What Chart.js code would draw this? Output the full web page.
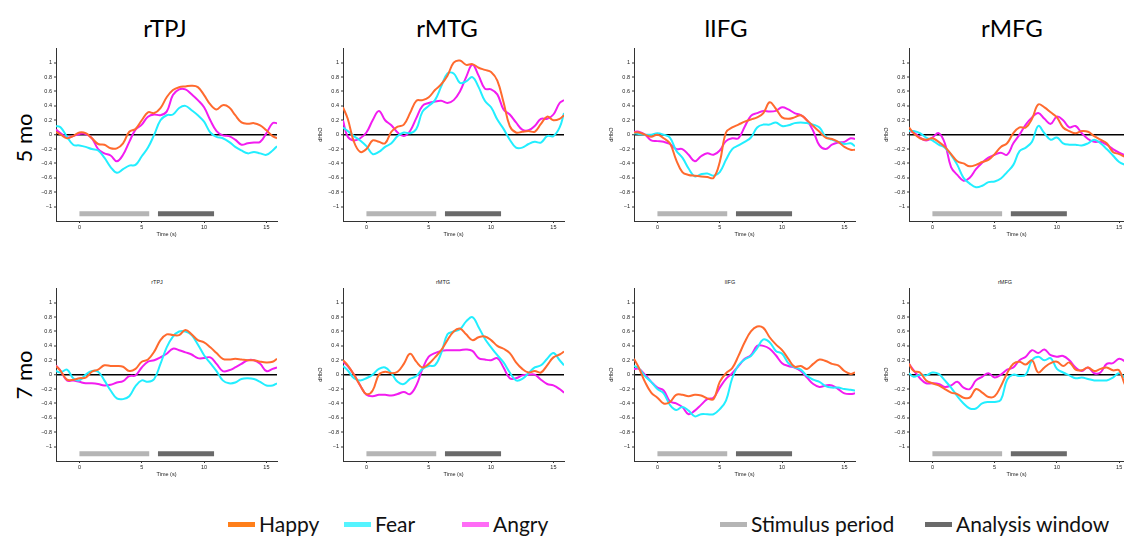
<!DOCTYPE html>
<html>
<head>
<meta charset="utf-8">
<title>dHbO por region</title>
<script src="https://cdn.jsdelivr.net/npm/chart.js@4.4.0/dist/chart.umd.min.js"></script>
<style>
  html, body { margin: 0; padding: 0; }
  body { width: 1124px; height: 540px; overflow: hidden; background: #fff; position: relative; font-family: Lato, sans-serif; }
  canvas { position: absolute; }
  .titulo { position: absolute; top: 16px; font-size: 24px; line-height: 24px; color: #000; transform: translateX(-50%); white-space: nowrap; }
  .edad { position: absolute; font-size: 22px; line-height: 22px; color: #000; white-space: nowrap; transform: translate(-50%, -50%) rotate(-90deg); }
  .mini { position: absolute; top: 279px; font-family: "Liberation Sans", sans-serif; font-size: 5.5px; color: #222; transform: translateX(-50%); }
  .muestra { position: absolute; top: 522px; width: 27px; height: 5px; }
  .etiqueta { position: absolute; top: 513px; font-size: 21px; line-height: 21px; color: #111; white-space: nowrap; }
</style>
</head>
<body>

<script>
// eje de tiempo compartido (s)
const tiempos = [-1.88,-1.5,-1,-0.5,0,0.5,1,1.5,2,2.5,3,3.5,4,4.5,5,5.5,6,6.5,7,7.5,8,8.5,9,9.5,10,10.5,11,11.5,12,12.5,13,13.5,14,14.5,15,15.5,15.85];
const regiones = ["rTPJ", "rMTG", "lIFG", "rMFG"];
const edades = ["5 mo", "7 mo"];
const emociones = ["Happy", "Fear", "Angry"];
const yTicks = [-1, -0.8, -0.6, -0.4, -0.2, 0, 0.2, 0.4, 0.6, 0.8, 1];
const xTicks = [0, 5, 10, 15];
const periodoEstimulo = [0, 5.6];   // barra gris claro
const ventanaAnalisis = [6.3, 10.8]; // barra gris oscuro
const nivelBarras = -1.1;

// ---- 5 meses ----
const rTPJ_5_happy = [0.04,0.0,-0.05,-0.02,0.03,0.02,-0.05,-0.13,-0.14,-0.19,-0.19,-0.12,0.04,0.08,0.2,0.31,0.3,0.37,0.52,0.62,0.66,0.67,0.68,0.66,0.55,0.42,0.35,0.41,0.38,0.27,0.17,0.15,0.16,0.13,0.06,-0.02,-0.05];
const rTPJ_5_fear  = [0.12,0.1,-0.03,-0.14,-0.15,-0.17,-0.2,-0.22,-0.32,-0.45,-0.53,-0.48,-0.43,-0.42,-0.3,-0.18,0.0,0.2,0.27,0.28,0.37,0.4,0.34,0.27,0.18,0.03,-0.03,-0.05,-0.1,-0.17,-0.22,-0.26,-0.24,-0.26,-0.28,-0.22,-0.16];
const rTPJ_5_angry = [0.07,0.02,-0.04,-0.02,0.01,0.01,-0.05,-0.2,-0.26,-0.29,-0.37,-0.28,-0.1,0.07,0.14,0.25,0.28,0.27,0.32,0.55,0.63,0.63,0.56,0.48,0.38,0.2,0.05,-0.01,-0.02,-0.07,-0.14,-0.12,-0.11,-0.1,0.02,0.16,0.16];

const rMTG_5_happy = [0.38,0.22,-0.1,-0.24,-0.2,-0.08,-0.1,-0.12,0.04,0.11,0.14,0.3,0.47,0.48,0.52,0.62,0.7,0.82,1.0,1.03,0.97,0.98,0.93,0.9,0.87,0.75,0.45,0.12,0.03,0.04,0.05,0.04,0.15,0.25,0.2,0.22,0.27];
const rMTG_5_fear  = [0.1,0.05,-0.02,-0.08,-0.16,-0.27,-0.24,-0.17,-0.12,-0.02,0.03,0.02,0.08,0.32,0.4,0.48,0.67,0.85,0.85,0.72,0.74,0.8,0.66,0.47,0.38,0.21,0.08,-0.07,-0.18,-0.18,-0.13,-0.1,-0.11,-0.02,-0.02,0.1,0.3];
const rMTG_5_angry = [0.2,-0.03,-0.08,-0.05,0.03,0.2,0.33,0.2,0.13,0.03,-0.02,0.05,0.23,0.4,0.44,0.46,0.47,0.44,0.48,0.6,0.8,0.97,0.82,0.64,0.63,0.56,0.35,0.28,0.17,0.07,0.06,0.12,0.22,0.22,0.28,0.44,0.48];

const lIFG_5_happy = [0.03,0.03,0.0,-0.03,0.0,-0.05,-0.12,-0.35,-0.52,-0.56,-0.57,-0.58,-0.59,-0.6,-0.38,0.03,0.1,0.14,0.18,0.21,0.24,0.3,0.45,0.36,0.24,0.22,0.24,0.27,0.2,0.12,0.04,-0.04,-0.06,-0.1,-0.17,-0.21,-0.21];
const lIFG_5_fear  = [0.02,0.01,0.0,0.0,0.02,0.0,-0.04,-0.22,-0.32,-0.47,-0.58,-0.55,-0.54,-0.57,-0.52,-0.35,-0.2,-0.15,-0.1,-0.04,0.1,0.14,0.14,0.17,0.12,0.13,0.16,0.17,0.16,0.14,0.1,-0.03,-0.07,-0.1,-0.13,-0.12,-0.16];
const lIFG_5_angry = [0.04,0.04,0.0,-0.08,-0.09,-0.1,-0.13,-0.2,-0.2,-0.28,-0.37,-0.3,-0.26,-0.28,-0.22,-0.09,-0.05,-0.05,0.11,0.26,0.3,0.33,0.32,0.33,0.38,0.35,0.3,0.27,0.2,0.05,-0.15,-0.2,-0.14,-0.11,-0.1,-0.05,-0.06];

const rMFG_5_happy = [0.1,0.02,-0.05,-0.07,-0.05,-0.1,-0.17,-0.27,-0.37,-0.4,-0.44,-0.42,-0.38,-0.35,-0.27,-0.17,-0.12,0.02,0.1,0.1,0.22,0.42,0.38,0.31,0.24,0.1,0.05,0.02,0.05,0.04,-0.02,-0.07,-0.12,-0.24,-0.27,-0.31,-0.33];
const rMFG_5_fear  = [0.05,0.05,0.02,-0.04,-0.08,-0.14,-0.18,-0.28,-0.42,-0.6,-0.68,-0.73,-0.71,-0.66,-0.65,-0.61,-0.52,-0.42,-0.23,-0.18,-0.1,0.12,0.02,-0.07,-0.04,-0.12,-0.14,-0.14,-0.15,-0.12,-0.07,-0.12,-0.2,-0.29,-0.38,-0.42,-0.43];
const rMFG_5_angry = [0.05,0.03,-0.04,-0.08,-0.04,0.02,-0.12,-0.45,-0.56,-0.64,-0.6,-0.48,-0.39,-0.32,-0.28,-0.25,-0.28,-0.12,0.0,0.14,0.24,0.3,0.22,0.15,0.25,0.2,0.1,0.12,0.02,-0.06,-0.1,-0.1,-0.14,-0.2,-0.25,-0.29,-0.31];

// ---- 7 meses ----
const rTPJ_7_happy = [0.12,0.05,-0.07,-0.07,-0.05,-0.04,0.04,0.07,0.13,0.12,0.12,0.11,0.05,0.08,0.18,0.21,0.32,0.48,0.56,0.55,0.55,0.62,0.56,0.48,0.45,0.38,0.3,0.22,0.21,0.22,0.21,0.2,0.2,0.18,0.17,0.18,0.22];
const rTPJ_7_fear  = [0.05,0.03,0.07,-0.05,-0.08,0.0,0.05,0.04,-0.08,-0.22,-0.33,-0.34,-0.3,-0.16,-0.08,-0.1,-0.06,0.15,0.38,0.53,0.6,0.6,0.55,0.42,0.27,0.16,0.05,-0.08,-0.12,-0.11,-0.06,-0.05,-0.06,-0.1,-0.15,-0.15,-0.12];
const rTPJ_7_angry = [0.13,0.05,-0.08,-0.08,-0.1,-0.12,-0.12,-0.13,-0.15,-0.14,-0.11,-0.09,-0.02,-0.01,0.1,0.18,0.2,0.24,0.29,0.36,0.34,0.31,0.28,0.23,0.23,0.24,0.15,0.05,0.06,0.1,0.15,0.2,0.2,0.15,0.05,0.08,0.1];

const rMTG_7_happy = [0.2,0.13,0.0,-0.15,-0.27,-0.22,0.0,0.04,0.02,0.04,0.15,0.29,0.18,0.1,0.15,0.24,0.34,0.48,0.6,0.64,0.56,0.48,0.52,0.53,0.48,0.4,0.36,0.3,0.17,0.08,0.03,0.05,0.03,0.13,0.24,0.28,0.32];
const rMTG_7_fear  = [0.12,0.06,-0.05,-0.08,-0.05,0.0,0.08,0.1,0.02,-0.1,-0.13,-0.06,-0.02,0.08,0.12,0.13,0.3,0.56,0.6,0.63,0.74,0.8,0.66,0.5,0.38,0.27,0.17,0.03,-0.08,-0.06,0.02,0.1,0.13,0.22,0.3,0.2,0.13];
const rMTG_7_angry = [0.18,0.12,0.0,-0.15,-0.28,-0.3,-0.28,-0.28,-0.29,-0.27,-0.24,-0.27,-0.15,0.08,0.25,0.3,0.33,0.34,0.34,0.34,0.35,0.33,0.23,0.21,0.2,0.23,0.1,-0.05,-0.05,-0.01,0.0,0.0,-0.07,-0.13,-0.15,-0.2,-0.25];

const lIFG_7_happy = [0.22,0.1,-0.1,-0.25,-0.32,-0.4,-0.38,-0.28,-0.28,-0.3,-0.28,-0.29,-0.33,-0.34,-0.1,0.02,0.09,0.26,0.45,0.6,0.67,0.65,0.52,0.42,0.34,0.22,0.11,0.12,0.08,0.15,0.21,0.19,0.15,0.13,0.05,0.01,0.03];
const lIFG_7_fear  = [0.12,0.09,-0.02,-0.1,-0.2,-0.26,-0.42,-0.49,-0.45,-0.5,-0.58,-0.55,-0.55,-0.55,-0.48,-0.36,-0.05,0.13,0.21,0.26,0.37,0.49,0.45,0.33,0.29,0.16,0.1,0.07,-0.02,-0.07,-0.1,-0.16,-0.18,-0.18,-0.2,-0.21,-0.22];
const lIFG_7_angry = [0.08,0.08,0.0,-0.1,-0.18,-0.22,-0.37,-0.4,-0.45,-0.55,-0.5,-0.42,-0.34,-0.32,-0.18,-0.06,0.02,0.12,0.22,0.27,0.4,0.4,0.36,0.27,0.16,0.12,0.1,0.05,-0.04,-0.13,-0.17,-0.15,-0.15,-0.2,-0.26,-0.27,-0.26];

const rMFG_7_happy = [0.15,0.05,0.03,-0.08,-0.12,-0.15,-0.2,-0.25,-0.27,-0.32,-0.32,-0.2,-0.25,-0.31,-0.3,-0.16,0.02,0.15,0.18,0.14,0.2,0.03,0.1,0.16,0.18,0.12,0.17,0.07,0.06,0.1,0.05,0.08,0.1,0.06,0.06,-0.15,-0.2];
const rMFG_7_fear  = [0.02,-0.03,0.0,-0.01,0.03,0.01,-0.08,-0.18,-0.3,-0.4,-0.47,-0.47,-0.4,-0.38,-0.38,-0.35,-0.07,0.0,-0.02,0.0,0.2,0.25,0.2,0.23,0.08,0.03,-0.01,-0.05,-0.04,-0.06,-0.08,-0.08,-0.08,-0.04,0.02,-0.05,-0.06];
const rMFG_7_angry = [0.15,0.06,-0.05,-0.12,-0.12,-0.13,-0.17,-0.15,-0.1,-0.18,-0.2,-0.08,-0.03,0.02,-0.04,0.0,0.07,0.1,0.2,0.25,0.34,0.3,0.35,0.27,0.25,0.26,0.2,0.1,0.05,0.1,0.02,0.03,0.15,0.16,0.22,0.18,0.12];

const series = {
  "rTPJ_5": [rTPJ_5_happy, rTPJ_5_fear, rTPJ_5_angry],
  "rMTG_5": [rMTG_5_happy, rMTG_5_fear, rMTG_5_angry],
  "lIFG_5": [lIFG_5_happy, lIFG_5_fear, lIFG_5_angry],
  "rMFG_5": [rMFG_5_happy, rMFG_5_fear, rMFG_5_angry],
  "rTPJ_7": [rTPJ_7_happy, rTPJ_7_fear, rTPJ_7_angry],
  "rMTG_7": [rMTG_7_happy, rMTG_7_fear, rMTG_7_angry],
  "lIFG_7": [lIFG_7_happy, lIFG_7_fear, lIFG_7_angry],
  "rMFG_7": [rMFG_7_happy, rMFG_7_fear, rMFG_7_angry]
};

// colores de las lineas
const colorLinea = ["#ff6a2e", "#22eeff", "#f21cf0"];
const colorLeyenda = ["#ff7f1a", "#55f4ff", "#ff6cf6"];
const grisClaro = "#b5b5b5";
const grisOscuro = "#6a6a6a";

// posicion de los paneles en pixeles
const ejeIzq = [56, 343, 634, 909];
const filaTop = [47, 287];
const tituloX = [165, 447, 726, 1012];
const miniX = [157, 443, 730, 1005];
const PX_SEG = 12.45;
const ALTO = 174;

const fuenteChica = { family: "'Liberation Sans', Arial, sans-serif", size: 5.5 };

function texto(clase, txt, estilos) {
  const d = document.createElement("div");
  d.className = clase;
  d.textContent = txt;
  Object.assign(d.style, estilos);
  document.body.appendChild(d);
  return d;
}

function crearPanel(fila, col) {
  const clave = regiones[col] + "_" + (fila === 0 ? "5" : "7");
  const ultima = col === 3;
  const xmax = ultima ? 15.39 : 15.85;
  const anchoPlot = Math.round((xmax + 1.88) * PX_SEG);
  const YW = 26, XH = 17, PT = 4, PR = ultima ? 0 : 4;

  const canvas = document.createElement("canvas");
  canvas.width = YW + anchoPlot + PR;
  canvas.height = PT + ALTO + XH;
  canvas.style.left = (ejeIzq[col] - YW) + "px";
  canvas.style.top = (filaTop[fila] - PT) + "px";
  document.body.appendChild(canvas);

  const datasets = [];
  series[clave].forEach(function (vals, i) {
    datasets.push({
      label: emociones[i],
      data: tiempos.map((t, k) => ({ x: t, y: vals[k] })),
      borderColor: colorLinea[i],
      borderWidth: 2,
      pointRadius: 0,
      tension: 0.4,
      fill: false
    });
  });
  // barras de estimulo y de analisis
  datasets.push({
    label: "Stimulus period",
    data: periodoEstimulo.map(t => ({ x: t, y: nivelBarras })),
    borderColor: grisClaro, borderWidth: 5, pointRadius: 0, borderCapStyle: "butt"
  });
  datasets.push({
    label: "Analysis window",
    data: ventanaAnalisis.map(t => ({ x: t, y: nivelBarras })),
    borderColor: grisOscuro, borderWidth: 5, pointRadius: 0, borderCapStyle: "butt"
  });

  new Chart(canvas, {
    type: "line",
    data: { datasets: datasets },
    options: {
      responsive: false,
      animation: false,
      layout: { padding: { top: PT, right: PR, left: 0, bottom: 0 } },
      plugins: { legend: { display: false }, tooltip: { enabled: false }, title: { display: false } },
      scales: {
        x: {
          type: "linear", min: -1.88, max: xmax,
          afterBuildTicks: s => { s.ticks = xTicks.map(v => ({ value: v })); },
          afterFit: s => { s.height = XH; },
          grid: { drawOnChartArea: false, tickLength: 2, tickColor: "#333", tickWidth: 1 },
          border: { color: "#333", width: 1 },
          ticks: { font: fuenteChica, color: "#222", padding: 1, maxRotation: 0, autoSkip: false },
          title: { display: true, text: "Time (s)", font: fuenteChica, color: "#222", padding: 0 }
        },
        y: {
          type: "linear", min: -1.2, max: 1.2,
          afterBuildTicks: s => { s.ticks = yTicks.map(v => ({ value: v })); },
          afterFit: s => { s.width = YW; },
          grid: {
            color: c => (c.tick && c.tick.value === 0) ? "#000" : "rgba(0,0,0,0)",
            lineWidth: c => (c.tick && c.tick.value === 0) ? 1.5 : 0,
            tickLength: 2, tickColor: "#333", tickWidth: 1
          },
          border: { color: "#333", width: 1 },
          ticks: {
            font: fuenteChica, color: "#222", padding: 2,
            callback: v => v < 0 ? "\u2212" + Math.abs(v) : String(v)
          },
          title: { display: col > 0, text: "dHbO", font: fuenteChica, color: "#222", padding: 0 }
        }
      }
    }
  });
}

// titulos grandes y etiquetas de edad
regiones.forEach((r, i) => texto("titulo", r, { left: tituloX[i] + "px" }));
regiones.forEach((r, i) => texto("mini", r, { left: miniX[i] + "px" }));
texto("edad", edades[0], { left: "24px", top: "138px" });
texto("edad", edades[1], { left: "24px", top: "375px" });

for (let f = 0; f < 2; f++) {
  for (let c = 0; c < 4; c++) crearPanel(f, c);
}

// leyenda de abajo
const leyenda = [
  { txt: emociones[0], color: colorLeyenda[0], x: 228 },
  { txt: emociones[1], color: colorLeyenda[1], x: 344 },
  { txt: emociones[2], color: colorLeyenda[2], x: 462 },
  { txt: "Stimulus period", color: grisClaro, x: 720 },
  { txt: "Analysis window", color: grisOscuro, x: 925 }
];
leyenda.forEach(item => {
  const m = document.createElement("div");
  m.className = "muestra";
  m.style.left = item.x + "px";
  m.style.background = item.color;
  document.body.appendChild(m);
  texto("etiqueta", item.txt, { left: (item.x + 31) + "px" });
});
</script>
</body>
</html>
